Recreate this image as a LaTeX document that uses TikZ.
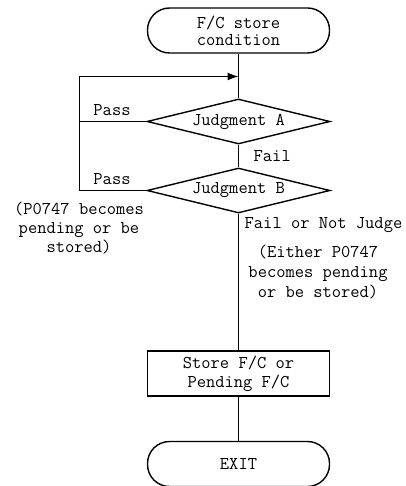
\documentclass[tikz,border=0pt]{standalone}
\usepackage{fontspec}
\usetikzlibrary{shapes.geometric, arrows.meta}

\begin{document}
\begin{tikzpicture}[x=1pt, y=-1pt, line width=1.4pt,
    every node/.style = {font=\ttfamily\fontsize{18}{19}\selectfont},
    term/.style = {draw, rectangle, rounded corners=22pt, minimum width=182pt, minimum height=45pt, inner sep=0pt, align=center},
    judge/.style = {draw, diamond, aspect=4.07, minimum width=183pt, minimum height=45pt, inner sep=0pt},
    proc/.style = {draw, rectangle, minimum width=182pt, minimum height=45pt, inner sep=0pt, align=center},
    lbl/.style = {inner sep=0pt, align=center}]
                \useasboundingbox (0, 0) rectangle (405, 486);

                \node[term, font=\ttfamily\fontsize{18}{17}\selectfont] at (238.5, 30.5) (S) {F/C store\\condition};
                \node[judge] at (238.5, 121.5) (A) {Judgment A};
                \node[judge] at (238.5, 190.5) (B) {Judgment B};
                \node[proc] at (238.5, 373.5) (P) {Store F/C or\\Pending F/C};
                \node[term] at (238.5, 464) (E) {EXIT};

                \coordinate (J) at (238.5, 76.5);
                \coordinate (LA) at (79.5, 121.5);
                \coordinate (LB) at (79.5, 190.5);
                \coordinate (LT) at (79.5, 76.5);

                \node[lbl] at (112, 110) (passA) {Pass};
                \node[lbl] at (112, 179) (passB) {Pass};
                \node[lbl, anchor=west] at (253, 156) (failA) {Fail};
                \node[lbl, anchor=west] at (244, 225) (failB) {Fail or Not Judge};
                \node[lbl] at (79, 228) (noteB) {(P0747 becomes\\pending or be\\stored)};
                \node[lbl, font=\ttfamily\fontsize{18}{20}\selectfont] at (318, 272) (noteP) {(Either P0747\\becomes pending\\or be stored)};

                \draw (S) -- (A);
                \draw (A) -- (B);
                \draw (B) -- (P);
                \draw (P) -- (E);

                \draw (A.west) -- (LA);
                \draw [-{Latex[length=11pt, width=8pt]}] (B.west) -- (LB) -- (LT) -- (J);
\end{tikzpicture}
\end{document}
